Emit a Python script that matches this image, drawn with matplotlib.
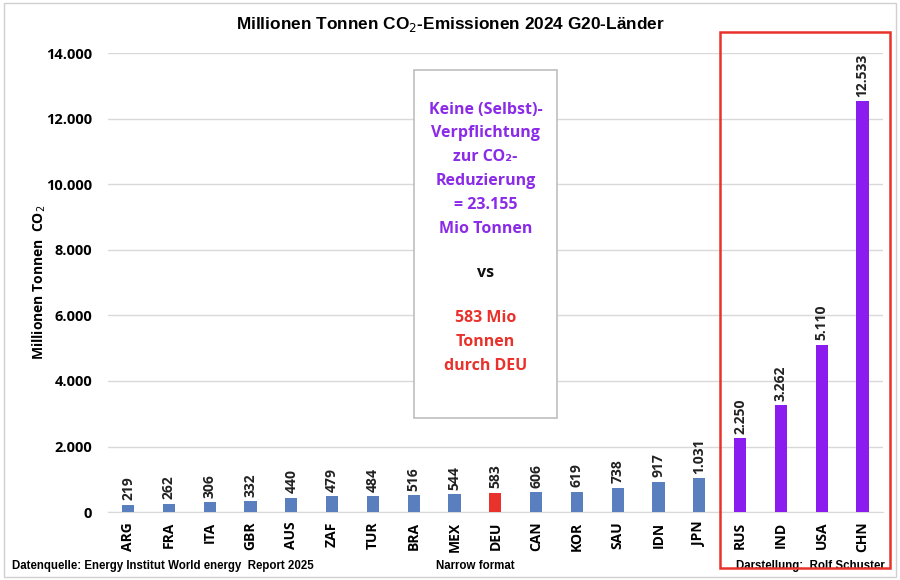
import matplotlib
matplotlib.use("Agg")
from matplotlib import pyplot as plt
from matplotlib.patches import Rectangle

countries = ["ARG", "FRA", "ITA", "GBR", "AUS", "ZAF", "TUR", "BRA", "MEX", "DEU",
             "CAN", "KOR", "SAU", "IDN", "JPN", "RUS", "IND", "USA", "CHN"]
emissions = [219, 262, 306, 332, 440, 479, 484, 516, 544, 583,
             606, 619, 738, 917, 1031, 2250, 3262, 5110, 12533]
no_commitment = ["RUS", "IND", "USA", "CHN"]
y_ticks = [0, 2000, 4000, 6000, 8000, 10000, 12000, 14000]

blue = "#5a7fbf"
purple = "#8a1cf0"
red = "#e8322b"

plt.rcParams["font.family"] = ["Open Sans", "DejaVu Sans"]
narrow = ["Liberation Sans Narrow", "Liberation Sans", "DejaVu Sans"]


def fmt(v):
    return "{:,}".format(v).replace(",", ".")


colors = []
for c in countries:
    if c == "DEU":
        colors.append(red)
    elif c in no_commitment:
        colors.append(purple)
    else:
        colors.append(blue)

fig = plt.figure(figsize=(9, 5.8), dpi=100)
ax = fig.add_axes([0.1196, 0.117, 0.8614, 0.7916])

x = list(range(len(countries)))
ax.bar(x, emissions, width=0.3, color=colors, zorder=3)
for xi, v in zip(x, emissions):
    ax.text(xi, v + 140, fmt(v), rotation=90, ha="center", va="bottom",
            fontsize=10, fontweight="bold", color="#222222")

ax.set_xlim(-0.5, len(countries) - 0.5)
ax.set_ylim(0, 14000)
ax.set_yticks(y_ticks)
ax.set_yticklabels([fmt(t) for t in y_ticks], fontsize=10.5, fontweight="bold")
ax.set_xticks(x)
ax.set_xticklabels(countries, rotation=90, fontsize=10, fontweight="bold")
ax.tick_params(axis="x", length=0, pad=7)
ax.tick_params(axis="y", length=0, pad=11)
ax.grid(axis="y", color="#d9d9d9", linewidth=1, zorder=0)
for s in ["top", "right", "left"]:
    ax.spines[s].set_visible(False)
ax.spines["bottom"].set_color("#d9d9d9")
ax.set_ylabel("Millionen Tonnen  CO$_2$", fontsize=10, fontweight="bold")
ax.yaxis.set_label_coords(-0.077, 0.5)

fig.text(0.5, 0.957, "Millionen Tonnen CO$_2$-Emissionen 2024 G20-Länder",
         ha="center", va="center", fontsize=12.4, fontweight="bold", family=narrow)

# comment box
fig.patches.append(Rectangle((414 / 900, 1 - 418 / 580), 143 / 900, 348 / 580,
                             transform=fig.transFigure, facecolor="white",
                             edgecolor="#bfbfbf", linewidth=1.2, zorder=5))
box_x = 485.5 / 900
fig.text(box_x, 1 - 169 / 580,
         "Keine (Selbst)-\nVerpflichtung\nzur CO\u2082-\nReduzierung\n= 23.155\nMio Tonnen",
         ha="center", va="center", fontsize=11.5, fontweight="bold", color="#8b2be8",
         linespacing=1.65, zorder=6)
fig.text(box_x, 1 - 273 / 580, "vs", ha="center", va="center", fontsize=11.5,
         fontweight="bold", color="#111111", zorder=6)
fig.text(box_x, 1 - 342 / 580, "583 Mio\nTonnen\ndurch DEU", ha="center", va="center",
         fontsize=11.5, fontweight="bold", color=red, linespacing=1.65, zorder=6)

# red frame around the non-committed countries
fig.patches.append(Rectangle((720 / 900, 1 - 568 / 580), 170 / 900, 536 / 580,
                             transform=fig.transFigure, facecolor="none",
                             edgecolor=red, linewidth=1.8, zorder=6))

# outer frame
fig.patches.append(Rectangle((0.004, 0.006), 0.992, 0.988, transform=fig.transFigure,
                             facecolor="none", edgecolor="#d0d0d0", linewidth=1))

fig.text(12 / 900, 1 - 566 / 580, "Datenquelle: Energy Institut World energy  Report 2025",
         ha="left", va="center", fontsize=8.3, fontweight="bold", family=narrow)
fig.text(475 / 900, 1 - 566 / 580, "Narrow format", ha="center", va="center",
         fontsize=8.3, fontweight="bold", family=narrow)
fig.text(885 / 900, 1 - 566 / 580, "Darstellung:  Rolf Schuster", ha="right", va="center",
         fontsize=8.3, fontweight="bold", family=narrow)

fig.savefig("out.png", dpi=100)
